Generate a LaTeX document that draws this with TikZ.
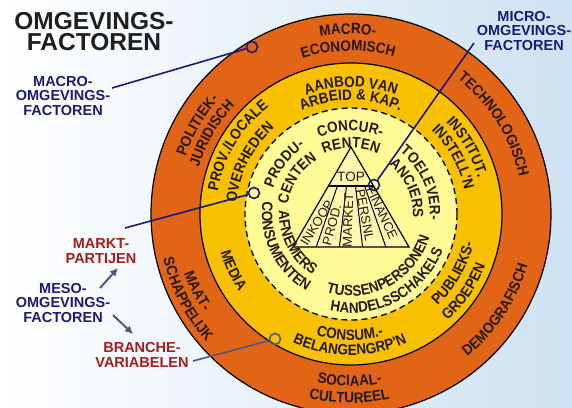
\documentclass[tikz,border=0pt]{standalone}
\usepackage{fontspec}
\setmainfont{Liberation Sans}
\newfontfamily\narrowfont{Liberation Sans}[FakeStretch=0.9]
\usetikzlibrary{decorations.text,arrows.meta}

\definecolor{ringorange}{RGB}{226,100,22}
\definecolor{ringgold}{RGB}{247,192,0}
\definecolor{corefill}{RGB}{255,249,150}
\definecolor{pyrfill}{RGB}{255,246,176}
\definecolor{labelnavy}{RGB}{27,27,119}
\definecolor{labelred}{RGB}{168,28,28}
\definecolor{arrowslate}{RGB}{76,90,130}
\definecolor{inkdark}{RGB}{36,26,18}
\definecolor{skyblue}{RGB}{205,226,242}

\newcommand{\ringfont}{\narrowfont\bfseries\fontsize{15}{15}\selectfont}

% curved label: radius, angle, bend radius, direction (1 clockwise, -1 anticlockwise), text
\newcommand{\ringtext}[5]{%
  \path[shift={(#2:#1)},shift={({#2+180}:#3)},decorate,
    decoration={text along path,text align=center,text color=inkdark,text={|\ringfont|#5}}]
    ({#2+(#4)*75}:#3) arc[start angle={#2+(#4)*75},end angle={#2-(#4)*75},radius=#3];}

\begin{document}
\begin{tikzpicture}[x=1pt,y=1pt,
    marker/.style={circle,draw=labelnavy,line width=1.6pt,minimum size=11pt,inner sep=0pt},
    sidelabel/.style={font=\bfseries\fontsize{14.5}{14.5}\selectfont,align=center,text=labelnavy},
    pyrlabel/.style={font=\fontsize{13}{13}\selectfont,text=inkdark,inner sep=0pt},
    pointer/.style={labelnavy,line width=1.6pt},
    mesoarrow/.style={arrowslate,line width=2pt,-{Latex[length=8pt,width=8pt]}}]

  \useasboundingbox (-351,-193) rectangle (221,214);
  \clip (-351,-193) rectangle (221,214);

  % Draw the background
  \shade[left color=white,middle color=white,right color=skyblue] (-351,-193) rectangle (221,214);

  % Draw the rings
  \filldraw[fill=ringorange,line width=1.2pt] (0,0) circle (200);
  \filldraw[fill=ringgold,line width=1.2pt] (0,0) circle (151);
  \filldraw[fill=corefill,line width=1.3pt,dash pattern=on 6pt off 4pt] (0,0) circle (106);

  % Draw the pyramid
  \filldraw[fill=pyrfill,line width=1.2pt] (0,67) -- (-58,-33) -- (58,-33) -- cycle;
  \foreach \k in {1,...,4}
    \draw[line width=1pt] ({0.39*(-58+23.2*\k)},28) -- ({-58+23.2*\k},-33);
  \draw[line width=2.4pt] (-22.6,28) -- (22.6,28);
  \node[font=\fontsize{13.5}{13.5}\selectfont,text=inkdark] (toplabel) at (0,37) {TOP};
  \node[pyrlabel,rotate=58] (inkoop) at (-34,-9) {INKOOP};
  \node[pyrlabel,rotate=75] (prod) at (-19,-11) {PROD.};
  \node[pyrlabel,rotate=88] (market) at (-3,-6) {MARKET};
  \node[pyrlabel,rotate=-79] (persnl) at (14,-1) {PERSNL};
  \node[pyrlabel,rotate=-65] (finance) at (31,1) {FINANCE};

  % Outer ring
  \ringtext{180}{91}{180}{1}{MACRO-}
  \ringtext{163}{91}{163}{1}{ECONOMISCH}
  \ringtext{172}{32}{172}{1}{TECHNOLOGISCH}
  \ringtext{175}{150}{175}{1}{POLITIEK-}
  \ringtext{159}{150}{159}{1}{JURIDISCH}
  \ringtext{177}{206.5}{177}{-1}{MAAT-}
  \ringtext{193}{207.5}{193}{-1}{SCHAPPELIJK}
  \ringtext{184}{-33.5}{184}{-1}{DEMOGRAFISCH}
  \ringtext{172}{-90.5}{172}{-1}{SOCIAAL-}
  \ringtext{189}{-90.5}{189}{-1}{CULTUREEL}

  % Middle ring
  \ringtext{127}{90}{127}{1}{AANBOD VAN}
  \ringtext{114}{90}{114}{1}{ARBEID {\&} KAP.}
  \ringtext{135}{149}{135}{1}{PROV./LOCALE}
  \ringtext{115}{153}{115}{1}{OVERHEDEN}
  \ringtext{132}{30}{132}{1}{INSTITUT.}
  \ringtext{116}{29}{116}{1}{INSTELL'N}
  \ringtext{136}{205.5}{136}{-1}{MEDIA}
  \ringtext{126}{-30}{126}{-1}{PUBLIEKS-}
  \ringtext{144}{-34.5}{144}{-1}{GROEPEN}
  \ringtext{126}{-90.5}{126}{-1}{CONSUM.-}
  \ringtext{141}{-90.5}{141}{-1}{BELANGENGRP'N}

  % Inner circle
  \ringtext{83}{90.5}{83}{1}{CONCUR-}
  \ringtext{66}{90}{66}{1}{RENTEN}
  \ringtext{82}{143}{82}{1}{PRODU-}
  \ringtext{64}{146.5}{64}{1}{CENTEN}
  \ringtext{79}{23.8}{79}{1}{TOELEVER-}
  \ringtext{62}{24.5}{62}{1}{ANCIERS}
  \ringtext{72}{207.7}{72}{-1}{AFNEMERS}
  \ringtext{89}{206}{89}{-1}{CONSUMENTEN}
  \ringtext{82}{-62}{82}{-1}{TUSSENPERSONEN}
  \ringtext{99}{-62}{99}{-1}{HANDELSSCHAKELS}

  % Place the markers
  \node[marker] (macromark) at (-99,167) {};
  \node[marker] (micromark) at (23,29) {};
  \node[marker] (marktmark) at (-97,21) {};
  \node[marker,draw=arrowslate] (branchemark) at (-76,-125) {};

  % Side labels
  \node[font=\bfseries\fontsize{24.5}{21}\selectfont,align=center,text=black!88] (title) at (-257,182) {OMGEVINGS-\\FACTOREN};
  \node[sidelabel] (macrolabel) at (-288,118) {MACRO-\\OMGEVINGS-\\FACTOREN};
  \node[sidelabel] (microlabel) at (173,183) {MICRO-\\OMGEVINGS-\\FACTOREN};
  \node[sidelabel] (mesolabel) at (-288,-89) {MESO-\\OMGEVINGS-\\FACTOREN};
  \node[sidelabel,text=labelred] (marktlabel) at (-250,-37) {MARKT-\\PARTIJEN};
  \node[sidelabel,text=labelred] (branchelabel) at (-209,-141) {BRANCHE-\\VARIABELEN};

  % Pointers
  \coordinate (macroend) at (-239,126);
  \coordinate (microend) at (123,171);
  \coordinate (marktend) at (-226,-14);
  \coordinate (brancheend) at (-158,-147);
  \draw[pointer] (macromark) -- (macroend);
  \draw[pointer] (micromark) -- (microend);
  \draw[pointer] (marktmark) -- (marktend);
  \draw[pointer,arrowslate] (branchemark) -- (brancheend);

  % Meso arrows
  \coordinate (mesoup) at (-251,-74);
  \coordinate (mesoupend) at (-233,-54);
  \coordinate (mesodown) at (-238,-101);
  \coordinate (mesodownend) at (-218,-120);
  \draw[mesoarrow] (mesoup) -- (mesoupend);
  \draw[mesoarrow] (mesodown) -- (mesodownend);
\end{tikzpicture}
\end{document}
